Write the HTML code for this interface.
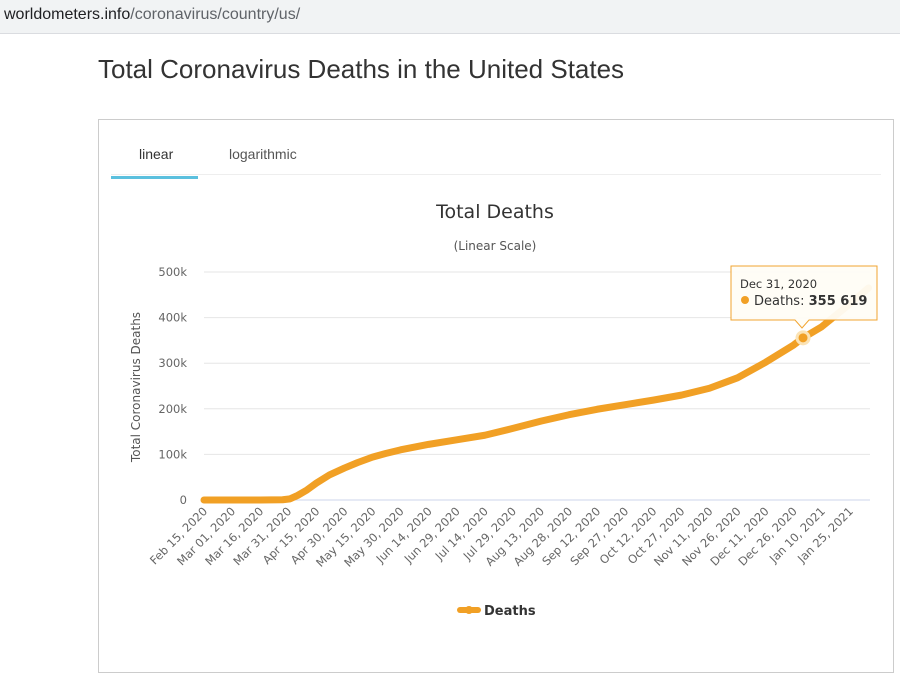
<!DOCTYPE html>
<html><head><meta charset="utf-8"><style>
body{margin:0;width:900px;height:697px;background:#fff;font-family:"Liberation Sans",sans-serif;position:relative;overflow:hidden}
.bar{position:absolute;left:0;top:0;width:900px;height:33px;background:#f1f3f4;border-bottom:1px solid #dadce0}
.url{position:absolute;left:4px;top:6px;font-size:16px;color:#202124}
.url span{color:#5f6368}
h1{position:absolute;left:98px;top:54px;margin:0;font-weight:normal;font-size:26px;color:#333}
.card{position:absolute;left:98px;top:119px;width:794px;height:552px;border:1px solid #ccc}
.tab{position:absolute;top:26px;font-size:14px;color:#555}
</style></head><body>
<div class="bar"><div class="url">worldometers.info<span>/coronavirus/country/us/</span></div></div>
<h1>Total Coronavirus Deaths in the United States</h1>
<div class="card">
<div class="tab" style="left:40px;color:#333">linear</div>
<div class="tab" style="left:130px">logarithmic</div>
<div style="position:absolute;left:12px;top:54px;width:770px;height:1px;background:#eee"></div>
<div style="position:absolute;left:12px;top:56px;width:87px;height:3px;background:#5bc0de"></div>
</div>
<svg id="chart" width="900" height="697" style="position:absolute;left:0;top:0"></svg>
<script>
const dayLabels=["Feb 15, 2020","Mar 01, 2020","Mar 16, 2020","Mar 31, 2020","Apr 15, 2020","Apr 30, 2020","May 15, 2020","May 30, 2020","Jun 14, 2020","Jun 29, 2020","Jul 14, 2020","Jul 29, 2020","Aug 13, 2020","Aug 28, 2020","Sep 12, 2020","Sep 27, 2020","Oct 12, 2020","Oct 27, 2020","Nov 11, 2020","Nov 26, 2020","Dec 11, 2020","Dec 26, 2020","Jan 10, 2021","Jan 25, 2021"];
const pointDays=[0,15,30,42,46,50,55,60,67,75,82,90,97,105,120,135,150,165,180,195,210,225,240,255,270,285,300,315,320,330,345,355];
const deaths=[0,1,100,500,2500,10000,22000,37000,55000,70000,82000,94000,102000,110000,122000,132000,142000,157000,173000,187000,199000,209000,219000,230000,245000,268000,302000,340000,355619,380000,430000,465000];
const yTicks=[0,100000,200000,300000,400000,500000];
const yTickLabels=["0","100k","200k","300k","400k","500k"];
const X0=204,PXD=1.872,Y0=500,PXV=45.6/100000;
const x=d=>X0+d*PXD, y=v=>Y0-v*PXV;
const svg=document.getElementById('chart');const NS='http://www.w3.org/2000/svg';
function mk(t,a,p){const e=document.createElementNS(NS,t);for(const k in a)e.setAttribute(k,a[k]);(p||svg).appendChild(e);return e;}
const FD='"DejaVu Sans",sans-serif';
let t=mk('text',{x:495,y:218,'text-anchor':'middle','font-size':19,fill:'#333','font-family':FD});t.textContent='Total Deaths';


t=mk('text',{x:495,y:250,'text-anchor':'middle','font-size':12,fill:'#555','font-family':FD});t.textContent='(Linear Scale)';


t=mk('text',{x:0,y:0,transform:'translate(140,387) rotate(-90)','text-anchor':'middle','font-size':12,fill:'#555','font-family':FD});t.textContent='Total Coronavirus Deaths';


yTicks.forEach((v,i)=>{
 const l=mk('line',{x1:204,x2:870,y1:y(v),y2:y(v),stroke:i?'#e6e6e6':'#ccd6eb','stroke-width':1});
 
 
 const tx=mk('text',{x:187,y:y(v)+4,'text-anchor':'end','font-size':11.5,fill:'#666','font-family':FD});tx.textContent=yTickLabels[i];
 
 
});
dayLabels.forEach((s,i)=>{
 const px=x(i*15)+4;
 const tx=mk('text',{x:0,y:0,transform:`translate(${px},512) rotate(-45)`,'text-anchor':'end','font-size':11.5,fill:'#666','font-family':FD});tx.textContent=s;
 
 
});
const pts=pointDays.map((d,i)=>x(d)+','+y(deaths[i])).join(' ');
const pl=mk('polyline',{points:pts,fill:'none',stroke:'#f1a025','stroke-width':7,'stroke-linejoin':'round','stroke-linecap':'round'});


const hi=28;
const c=mk('circle',{cx:x(pointDays[hi]),cy:y(deaths[hi]),r:6,fill:'#f1a025',stroke:'#fbe3b5','stroke-width':3});


const g=mk('g',{});


mk('path',{d:'M731,266 H877 V320 H809 L802,328 L795,320 H731 Z',fill:'#fffdf6',stroke:'#f1a025','stroke-width':1,opacity:.95},g);
t=mk('text',{x:740,y:288,'font-size':11.5,fill:'#333','font-family':FD},g);t.textContent='Dec 31, 2020';
mk('circle',{cx:745,cy:300,r:4,fill:'#f1a025'},g);
t=mk('text',{x:754,y:305,'font-size':13,fill:'#333','font-family':FD},g);t.innerHTML='Deaths: <tspan font-weight="bold">355 619</tspan>';
const lg=mk('g',{});


mk('line',{x1:460,x2:478,y1:610,y2:610,stroke:'#f1a025','stroke-width':6,'stroke-linecap':'round'},lg);
mk('circle',{cx:469,cy:610,r:4,fill:'#f1a025'},lg);
t=mk('text',{x:484,y:615,'font-size':13,'font-weight':'bold',fill:'#333','font-family':FD},lg);t.textContent='Deaths';
</script>
</body></html>
